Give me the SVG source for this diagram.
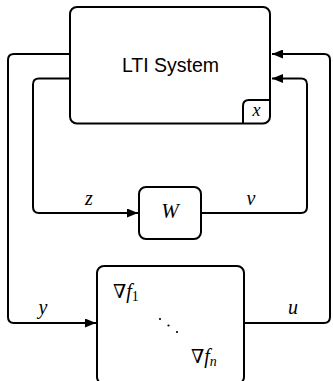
<svg xmlns="http://www.w3.org/2000/svg" width="333" height="381" viewBox="0 0 333 381">
  <style>
    .box { fill: #fff; stroke: #000; stroke-width: 2; }
    .wire { fill: none; stroke: #000; stroke-width: 2; }
    .sans { font-family: "Liberation Sans", "DejaVu Sans", sans-serif; fill: #000; }
    .math { font-family: "Liberation Serif", "DejaVu Serif", serif; font-style: italic; fill: #000; }
    .up { font-style: normal; font-family: "DejaVu Serif", serif; }
  </style>
  <defs>
    <marker id="arrow" markerUnits="userSpaceOnUse" markerWidth="11" markerHeight="9" refX="11" refY="4.5" orient="auto">
      <path d="M0,0 L11,4.5 L0,9 z" fill="#000"/>
    </marker>
  </defs>

  <g id="connectors">
    <!-- y : system output to gradient block -->
    <path class="wire" d="M70,54 H14 Q8,54 8,60 V317 Q8,323 14,323 H96" marker-end="url(#arrow)"/>
    <!-- z : system output to W -->
    <path class="wire" d="M70,78.5 H39 Q33,78.5 33,84.5 V207 Q33,213 39,213 H138" marker-end="url(#arrow)"/>
    <!-- v : W back to system -->
    <path class="wire" d="M201,213 H301 Q307,213 307,207 V84.5 Q307,78.5 301,78.5 H272" marker-end="url(#arrow)"/>
    <!-- u : gradient block back to system -->
    <path class="wire" d="M244,323 H324 Q330,323 330,317 V60 Q330,54 324,54 H272" marker-end="url(#arrow)"/>
    <text class="math" x="89" y="205" font-size="20" text-anchor="middle">z</text>
    <text class="math" x="251" y="205" font-size="20" text-anchor="middle">v</text>
    <text class="math" x="43" y="314" font-size="20" text-anchor="middle">y</text>
    <text class="math" x="293" y="314" font-size="20" text-anchor="middle">u</text>
  </g>

  <g id="lti">
    <rect class="box" x="70" y="7" width="200" height="116.5" rx="7"/>
    <text class="sans" x="170.5" y="71.5" font-size="19.5" text-anchor="middle">LTI System</text>
    <path class="wire" d="M243,123.5 V106 Q243,100 249,100 H270"/>
    <text class="math" x="256.5" y="116" font-size="18" text-anchor="middle">x</text>
  </g>

  <g id="w">
    <rect class="box" x="139" y="187" width="62" height="52" rx="7"/>
    <text class="math" x="170" y="218" font-size="21" text-anchor="middle">W</text>
  </g>

  <g id="gradients">
    <rect class="box" x="97" y="266" width="147" height="118" rx="7"/>
    <text class="math" x="113" y="298" font-size="20"><tspan class="up" font-size="19">∇</tspan>f<tspan font-size="14" font-style="normal" dy="3">1</tspan></text>
    <circle cx="160" cy="319" r="1.1" fill="#000"/>
    <circle cx="168.5" cy="325.5" r="1.1" fill="#000"/>
    <circle cx="177" cy="332" r="1.1" fill="#000"/>
    <text class="math" x="191" y="363" font-size="20"><tspan class="up" font-size="19">∇</tspan>f<tspan font-size="14" dy="3">n</tspan></text>
  </g>
</svg>
